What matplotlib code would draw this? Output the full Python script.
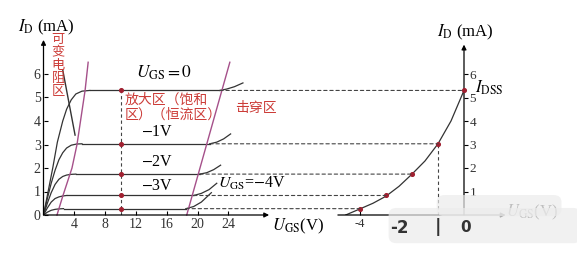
import matplotlib
matplotlib.use("Agg")
import matplotlib.pyplot as plt
from matplotlib.patches import ConnectionPatch, FancyBboxPatch

plt.rcParams["font.family"] = ["Liberation Serif", "Noto Sans CJK SC"]
plt.rcParams["mathtext.fontset"] = "stix"

# output characteristic curves (U_DS in V, I_D in mA)
ugs_levels = ["0", "-1V", "-2V", "-3V", "-4V"]
rise_v = [
    [0, 0.6, 1.2, 1.8, 2.5, 3.0, 3.6, 4.2, 5.0, 6.0],
    [0, 0.5, 1.0, 1.5, 2.0, 2.5, 3.0, 3.6, 4.3, 5.0],
    [0, 0.5, 1.0, 1.5, 2.0, 2.5, 3.0, 3.6, 4.2],
    [0, 0.5, 1.0, 1.5, 2.0, 2.5, 3.0],
    [0, 0.5, 1.0, 1.5, 2.0, 2.6],
]
rise_i = [
    [0, 1.0, 2.0, 3.1, 4.0, 4.5, 4.9, 5.15, 5.27, 5.3],
    [0, 0.7, 1.35, 1.9, 2.35, 2.65, 2.85, 2.97, 3.02, 3.03],
    [0, 0.5, 0.95, 1.3, 1.52, 1.64, 1.7, 1.73, 1.74],
    [0, 0.3, 0.55, 0.7, 0.77, 0.81, 0.83],
    [0, 0.12, 0.2, 0.24, 0.26, 0.27],
]
flat_i = [5.3, 3.03, 1.74, 0.83, 0.27]
brk_v = [
    [22.9, 23.8, 24.8, 25.9],
    [21.6, 22.5, 23.4, 24.3],
    [20.3, 21.2, 22.1, 23.0],
    [19.5, 20.5, 21.5, 22.5],
    [18.5, 19.5, 20.5, 21.8],
]
brk_i = [
    [5.3, 5.36, 5.46, 5.62],
    [3.03, 3.1, 3.24, 3.45],
    [1.74, 1.8, 1.93, 2.12],
    [0.83, 0.92, 1.08, 1.35],
    [0.27, 0.36, 0.55, 0.95],
]

# pinch-off and breakdown boundaries
pinch_v = [1.75, 2.5, 3.7, 4.35, 5.4, 5.8]
pinch_i = [0.0, 0.8, 2.0, 3.0, 5.3, 6.5]
brkline_v = [18.6, 24.2]
brkline_i = [0.0, 6.5]
ohm_v = [2.5, 4.1]
ohm_i = [6.17, 3.4]

# transfer characteristic (U_GS in V, I_D in mA)
tr_ugs = [-4.55, -4.0, -3.5, -3.0, -2.5, -2.0, -1.5, -1.0, -0.5, 0.0]
tr_id = [0.0, 0.26, 0.5, 0.8, 1.22, 1.74, 2.3, 3.03, 4.0, 5.3]
pt_ugs = [0.0, -1.0, -2.0, -3.0, -4.0]

yticks = [0, 1, 2, 3, 4, 5, 6]
xticks_out = [4, 8, 12, 16, 20, 24]

RED = "#cc3c38"
PURPLE = "#a5508a"
DOT = "#a02030"
INK = "#333333"

W, H = 577, 258
fig = plt.figure(figsize=(W / 100, H / 100), dpi=100)


def place(x0, x1, y_bot, y_top):
    return [x0 / W, 1 - y_bot / H, (x1 - x0) / W, (y_bot - y_top) / H]


ax1 = fig.add_axes(place(43.5, 43.5 + 29.3 * 7.7, 215, 215 - 7.45 * 23.5))
ax1.set_xlim(0, 29.3)
ax1.set_ylim(0, 7.45)
ax2 = fig.add_axes(place(464 - 4.85 * 26, 464 + 1.6 * 26, 215, 215 - 7.25 * 23.5))
ax2.set_xlim(-4.85, 1.6)
ax2.set_ylim(0, 7.25)
for ax in (ax1, ax2):
    ax.patch.set_visible(False)
    for s in ax.spines.values():
        s.set_visible(False)

arrow = dict(arrowstyle="-|>", color="black", lw=0.9, mutation_scale=7,
             shrinkA=0, shrinkB=0)
ax1.annotate("", xy=(29.3, 0), xytext=(0, 0), arrowprops=arrow, annotation_clip=False)
ax1.annotate("", xy=(0, 7.45), xytext=(0, 0), arrowprops=arrow, annotation_clip=False)
ax2.annotate("", xy=(1.6, 0), xytext=(-4.85, 0), arrowprops=arrow, annotation_clip=False)
ax2.annotate("", xy=(0, 7.25), xytext=(0, 0), arrowprops=arrow, annotation_clip=False)

# ticks
ax1.set_xticks(xticks_out)
ax1.set_yticks(yticks)
ax1.tick_params(direction="in", length=3, width=0.8, labelsize=10,
                labelcolor=INK, pad=2)
ax2.spines["right"].set_position(("data", 0))
ax2.yaxis.tick_right()
ax2.set_yticks(yticks[1:])
ax2.set_xticks([-4])
ax2.tick_params(axis="y", direction="out", length=3, width=0.8, labelsize=9.5,
                labelcolor=INK, pad=1)
ax2.tick_params(axis="x", direction="in", length=3, width=0.8, labelsize=9,
                labelcolor=INK, pad=2)
ax2.set_xticklabels(["-4"])

# output curves
for k in range(5):
    ax1.plot(rise_v[k], rise_i[k], color=INK, lw=0.9)
    ax1.plot([rise_v[k][-1], brk_v[k][0]], [flat_i[k], flat_i[k]], color=INK, lw=0.9)
    ax1.plot(brk_v[k], brk_i[k], color=INK, lw=0.9)

ax1.plot(pinch_v, pinch_i, color=PURPLE, lw=1.0, clip_on=False)
ax1.plot(brkline_v, brkline_i, color=PURPLE, lw=1.0, clip_on=False)
ax1.plot(ohm_v, ohm_i, color=INK, lw=1.0)

dash = dict(color="#444444", lw=0.8, linestyle=(0, (3, 2.5)))
ax1.plot([10, 10], [0, flat_i[0]], **dash)
ax1.scatter([10] * 5, flat_i, s=7, color=DOT, zorder=4)

# transfer curve
ax2.plot(tr_ugs, tr_id, color=INK, lw=0.9)
ax2.scatter(pt_ugs, flat_i, s=7, color=DOT, zorder=4)
ax2.plot([-1, -1], [0, flat_i[1]], **dash)

for k in range(5):
    con = ConnectionPatch(xyA=(brk_v[k][0], flat_i[k]), coordsA=ax1.transData,
                          xyB=(pt_ugs[k], flat_i[k]), coordsB=ax2.transData, **dash)
    fig.add_artist(con)

# labels
ax1.text(-3.3, 8.0, r"$I_{\rm D}$ (mA)", fontsize=12, ha="left", va="center")
ax1.text(29.7, -0.47, r"$U_{\rm GS}$(V)", fontsize=12, ha="left", va="center")
ax1.text(12.0, 6.05, r"$U_{\rm GS}=0$", fontsize=12.5, ha="left", va="center")
ax1.text(12.6, 3.55, "$-$1V", fontsize=11.5, ha="left", va="center")
ax1.text(12.6, 2.25, "$-$2V", fontsize=11.5, ha="left", va="center")
ax1.text(12.6, 1.25, "$-$3V", fontsize=11.5, ha="left", va="center")
ax1.text(22.6, 1.35, r"$U_{\rm GS}$=$-$4V", fontsize=11.5, ha="left", va="center")

cjk = ["Noto Sans CJK SC"]
ax1.text(1.05, 7.75, "可\n变\n电\n阻\n区", family=cjk, fontsize=9.5, color=RED,
         ha="left", va="top", linespacing=1.0)
ax1.text(10.5, 5.2, "放大区（饱和\n区）（恒流区）", family=cjk, fontsize=10,
         color=RED, ha="left", va="top", linespacing=1.05)
ax1.text(24.9, 4.55, "击穿区", family=cjk, fontsize=10, color=RED,
         ha="left", va="center")

ax2.text(-1.05, 7.75, r"$I_{\rm D}$ (mA)", fontsize=12, ha="left", va="center")
ax2.text(0.42, 5.4, r"$I_{\rm DSS}$", fontsize=12, ha="left", va="center")
ax2.text(1.62, 0.1, r"$U_{\rm GS}$(V)", fontsize=12, ha="left", va="center",
         color="#555555")

# smudged overlay near the transfer axis
for (bx, by, bw, bh) in [(-2.85, -1.15, 7.3, 1.4), (-1.0, 0.0, 4.7, 0.8)]:
    ax2.add_patch(FancyBboxPatch((bx, by), bw, bh,
                                 boxstyle="round,pad=0.05,rounding_size=0.3",
                                 facecolor="#ececec", edgecolor="none", alpha=0.7,
                                 clip_on=False, zorder=5))
ax2.text(-2.5, -0.55, "-2", fontsize=12, fontweight="bold", color="#333333",
         family=["DejaVu Sans"], ha="center", va="center", zorder=6)
ax2.text(-1.0, -0.5, "|", fontsize=13, fontweight="bold", color="#333333",
         family=["DejaVu Sans"], ha="center", va="center", zorder=6)
ax2.text(0.05, -0.55, "0", fontsize=11, fontweight="bold", color="#333333",
         family=["DejaVu Sans"], ha="center", va="center", zorder=6)

fig.savefig("out.png", dpi=100)
